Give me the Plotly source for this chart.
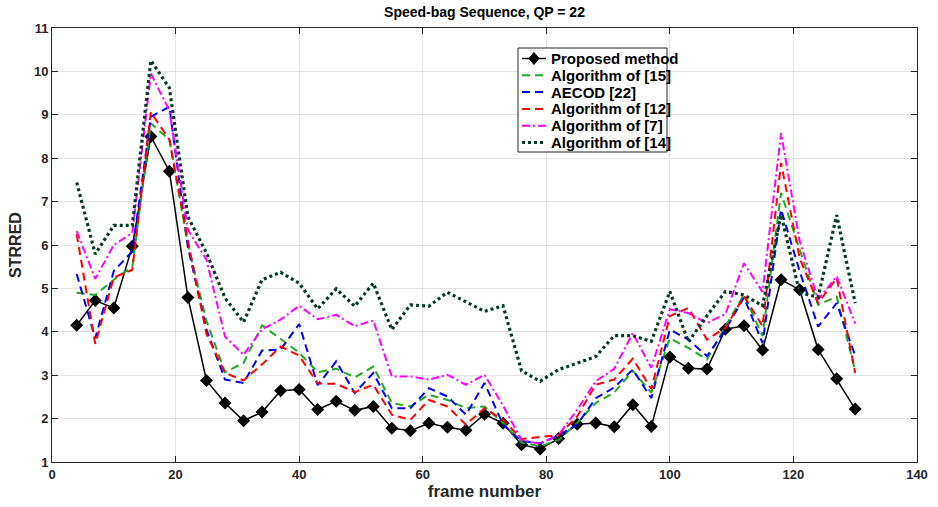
import plotly.graph_objects as go

frames = list(range(4, 131, 3))

proposed = [4.15, 4.72, 4.55, 5.97, 8.50, 7.70, 4.79, 2.88, 2.36, 1.95,
            2.15, 2.64, 2.67, 2.21, 2.40, 2.19, 2.28, 1.78, 1.72, 1.89,
            1.80, 1.73, 2.10, 1.89, 1.40, 1.30, 1.54, 1.87, 1.90, 1.81,
            2.32, 1.82, 3.42, 3.16, 3.14, 4.06, 4.14, 3.58, 5.20, 4.97,
            3.59, 2.92, 2.22]

alg15 = [4.90, 4.85, 5.20, 5.50, 8.80, 8.43, 6.00, 4.25, 3.07, 3.28,
         4.15, 3.83, 3.52, 3.07, 3.15, 2.95, 3.20, 2.36, 2.28, 2.55,
         2.43, 2.24, 2.28, 1.90, 1.45, 1.36, 1.51, 1.90, 2.36, 2.60,
         3.10, 2.60, 3.85, 3.63, 3.36, 4.13, 4.86, 3.90, 7.20, 5.90,
         4.62, 4.81, 3.10]

aecod22 = [5.33, 3.85, 5.40, 5.85, 8.95, 9.19, 5.95, 4.05, 2.90, 2.82,
           3.57, 3.59, 4.18, 2.77, 3.32, 2.59, 3.05, 2.24, 2.24, 2.70,
           2.51, 2.09, 2.82, 1.86, 1.48, 1.43, 1.61, 1.86, 2.47, 2.72,
           3.13, 2.47, 4.05, 3.82, 3.44, 4.05, 4.79, 3.74, 6.82, 5.40,
           4.12, 4.66, 3.45]

alg12 = [6.25, 3.72, 5.25, 5.43, 9.06, 8.43, 6.10, 3.95, 3.05, 2.88,
         3.25, 3.66, 3.45, 2.81, 2.80, 2.61, 2.78, 2.09, 1.97, 2.43,
         2.28, 1.86, 2.24, 1.97, 1.53, 1.58, 1.62, 2.05, 2.78, 2.90,
         3.38, 2.68, 4.36, 4.55, 3.82, 4.09, 4.82, 4.13, 7.89, 5.70,
         4.66, 5.24, 3.05]

alg7 = [6.32, 5.22, 6.00, 6.28, 9.95, 9.10, 6.35, 5.66, 3.89, 3.47,
        4.06, 4.28, 4.60, 4.29, 4.39, 4.13, 4.26, 2.97, 2.97, 2.90,
        3.01, 2.78, 3.01, 2.30, 1.50, 1.42, 1.63, 2.20, 2.86, 3.15,
        3.97, 3.17, 4.52, 4.43, 4.20, 4.41, 5.58, 4.92, 8.58, 6.10,
        4.74, 5.28, 4.19]

alg14 = [7.44, 5.79, 6.45, 6.45, 10.25, 9.62, 6.65, 5.82, 4.78, 4.22,
         5.20, 5.37, 5.12, 4.53, 4.99, 4.59, 5.12, 4.05, 4.62, 4.59,
         4.91, 4.68, 4.47, 4.60, 3.10, 2.86, 3.13, 3.28, 3.43, 3.91,
         3.91, 3.78, 4.93, 3.77, 4.37, 4.93, 4.85, 4.60, 6.70, 4.90,
         4.80, 6.69, 4.66]

series_names = ["Proposed method", "Algorithm of [15]", "AECOD [22]",
                "Algorithm of [12]", "Algorithm of [7]", "Algorithm of [14]"]

x_ticks = [0, 20, 40, 60, 80, 100, 120, 140]
y_ticks = [1, 2, 3, 4, 5, 6, 7, 8, 9, 10, 11]

FONT = "Liberation Sans, Arial, Helvetica, sans-serif"

styles = [
    dict(color="black", width=1.5, dash="solid"),
    dict(color="#1faa1f", width=2, dash="8px,5px"),
    dict(color="#0000ff", width=2, dash="8px,5px"),
    dict(color="#ff0000", width=2, dash="8px,5px"),
    dict(color="#ff00ff", width=2, dash="8px,3px,2px,3px"),
    dict(color="#06392a", width=3.2, dash="3px,3px"),
]
all_series = [proposed, alg15, aecod22, alg12, alg7, alg14]

fig = go.Figure()
for i, (name, ys, st) in enumerate(zip(series_names, all_series, styles)):
    if i == 0:
        fig.add_trace(go.Scatter(x=frames, y=ys, name=name, mode="lines+markers",
                                 line=st,
                                 marker=dict(symbol="diamond", size=10, color="black")))
    else:
        fig.add_trace(go.Scatter(x=frames, y=ys, name=name, mode="lines", line=st))

axis_common = dict(
    showline=True, linecolor="#262626", linewidth=1, mirror="ticks",
    ticks="inside", ticklen=6, tickcolor="#262626", tickwidth=1,
    showgrid=True, gridcolor="#e3e3e3", gridwidth=1, zeroline=False,
    automargin=False,
    tickfont=dict(family=FONT, size=13, color="#262626", weight="bold"),
)

fig.update_xaxes(range=[0, 140], tickvals=x_ticks, **axis_common,
                 title=dict(text="frame number", standoff=4,
                            font=dict(family=FONT, size=17, color="#262626", weight="bold")))
fig.update_yaxes(range=[1, 11], tickvals=y_ticks, **axis_common,
                 title=dict(text="STRRED", standoff=8,
                            font=dict(family=FONT, size=16, color="#262626", weight="bold")))

# ---- legend box drawn in pixel-based paper coordinates (MATLAB-like compact legend)
W, H = 938, 507
ML, MR, MT, MB = 52, 21, 28, 45
PW, PH = W - ML - MR, H - MT - MB


def px(x):
    return (x - ML) / PW


def py(y):
    return (H - MB - y) / PH


shapes = []
annotations = []
box = (518, 48, 667, 152)
shapes.append(dict(type="rect", xref="paper", yref="paper",
                   x0=px(box[0]), x1=px(box[2]), y0=py(box[3]), y1=py(box[1]),
                   line=dict(color="#262626", width=1), fillcolor="white", layer="above"))
row0, rowstep = 58.5, 16.8
for i, (name, st) in enumerate(zip(series_names, styles)):
    yc = row0 + i * rowstep
    shapes.append(dict(type="line", xref="paper", yref="paper",
                       x0=px(522), x1=px(546), y0=py(yc), y1=py(yc),
                       line=dict(color=st["color"], width=st["width"], dash=st["dash"]),
                       layer="above"))
    if i == 0:
        cx, cy = 534, yc
        path = "M {} {} L {} {} L {} {} L {} {} Z".format(
            px(cx - 5), py(cy), px(cx), py(cy - 6), px(cx + 5), py(cy), px(cx), py(cy + 6))
        shapes.append(dict(type="path", xref="paper", yref="paper", path=path,
                           fillcolor="black", line=dict(color="black", width=1),
                           layer="above"))
    annotations.append(dict(text=name, xref="paper", yref="paper",
                            x=px(549), y=py(yc), xanchor="left", yanchor="middle",
                            showarrow=False,
                            font=dict(family=FONT, size=15, color="black", weight="bold")))

fig.update_layout(
    width=W, height=H,
    margin=dict(l=ML, r=MR, t=MT, b=MB),
    paper_bgcolor="white", plot_bgcolor="white",
    title=dict(text="Speed-bag Sequence, QP = 22", x=0.5, xref="paper",
               y=0.977, yref="container", yanchor="middle", automargin=False,
               font=dict(family=FONT, size=14, color="black", weight="bold")),
    showlegend=False,
    shapes=shapes,
    annotations=annotations,
)

fig.write_html(
    "out.html",
    config={"displayModeBar": False},
    post_script="document.body.style.margin='0';document.body.style.overflow='hidden';",
)
